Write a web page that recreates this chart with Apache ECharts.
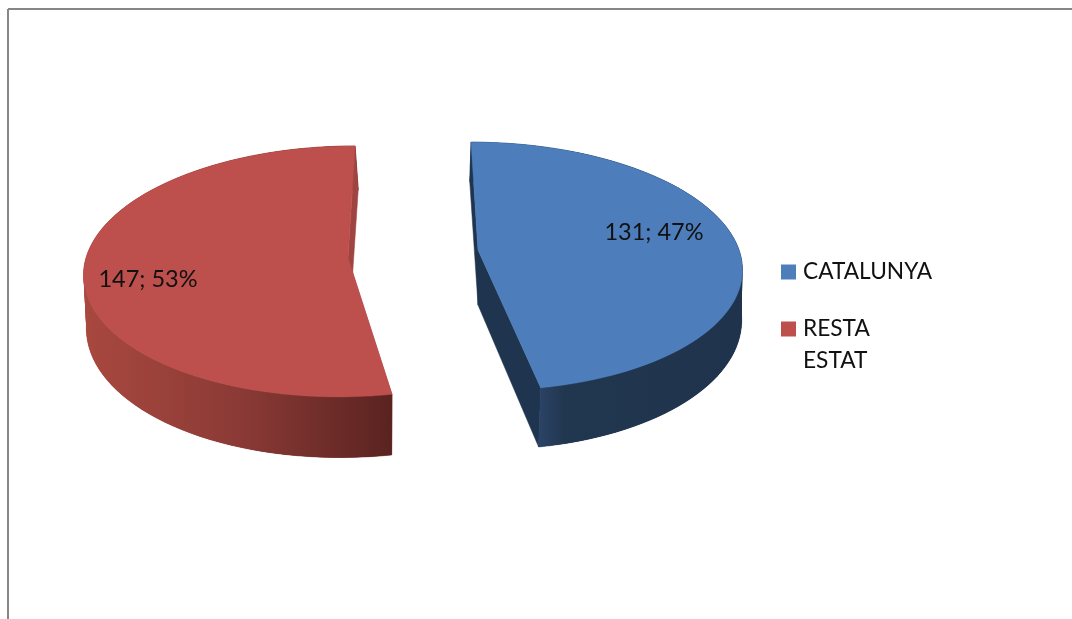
<!DOCTYPE html>
<html>
<head>
<meta charset="utf-8">
<style>
  html, body { margin: 0; padding: 0; background: #fff; }
  #chart { width: 1072px; height: 619px; }
</style>
</head>
<body>
<div id="chart"></div>
<script src="https://cdn.jsdelivr.net/npm/echarts@6/dist/echarts.min.js"></script>
<script>
// data
const regions = ['CATALUNYA', 'RESTA ESTAT'];
const counts = [131, 147];

const total = counts.reduce((a, b) => a + b, 0);
const fontName = 'Lato';

// how each slice sits on the page (the pie is drawn tilted, in perspective)
const sliceLooks = [{
  vertex: [478, 250], skew: 1, drop: [0, 55], labelAt: [654, 232],
  topPlane: { r: 261, ry: 122, k: 0.131, s: 0.03 },
  top: '#4d7ebb', cut: '#1f344f',
  wall: [{ offset: 0, color: '#2a4264' }, { offset: 0.12, color: '#21364f' }, { offset: 1, color: '#1f334d' }],
  wallX: [541, 741]
}, {
  vertex: [348, 258], skew: -1, drop: [2, 55], labelAt: [148, 279],
  topPlane: { r: 262, ry: 124, k: 0.107, s: 0.03 },
  top: '#bd504c', cut: '#a04441',
  wall: [{ offset: 0, color: '#a8483f' }, { offset: 0.5, color: '#8b3a36' }, { offset: 1, color: '#5a2320' }],
  wallX: [85, 393]
}];

const bottomPlane = { r: 262, ry: 133, k: 0.08, s: 0.034 };
const arcSteps = 80;

// pie angle (degrees clockwise from the back of the pie) to a page position
function project(plane, origin, skew, deg) {
  const a = deg * Math.PI / 180;
  const u = Math.sin(a);
  const v = -Math.cos(a);
  const w = 1 - plane.k * v;
  return [
    origin[0] + plane.r * (u + skew * plane.s * v) / w,
    origin[1] + plane.ry * v / w
  ];
}

function arc(plane, origin, skew, from, to) {
  const pts = [];
  for (let i = 0; i <= arcSteps; i++) {
    pts.push(project(plane, origin, skew, from + (to - from) * i / arcSteps));
  }
  return pts;
}

function renderSlice(index, params, api) {
  const look = sliceLooks[index];
  const before = counts.slice(0, index).reduce((a, b) => a + b, 0);
  const from = before / total * 360;
  const to = (before + api.value(0)) / total * 360;

  const v = look.vertex;
  const v2 = [v[0] + look.drop[0], v[1] + look.drop[1]];
  const topArc = arc(look.topPlane, v, look.skew, from, to);
  const bottomArc = arc(bottomPlane, v2, look.skew, from, to);

  // which ends of the slice are at the back and at the front
  const back = index === 0 ? 0 : arcSteps;
  const front = index === 0 ? arcSteps : 0;

  const poly = (points, fill) => ({
    type: 'polygon',
    shape: { points: points },
    style: { fill: fill, stroke: fill, lineWidth: 0.5 }
  });
  const wallFill = new echarts.graphic.LinearGradient(
    look.wallX[0], 0, look.wallX[1], 0, look.wall, true);

  // outer wall: one base shape, then overlapping strips so the side edge
  // between the two planes stays straight and no seams show
  const wallParts = [poly(topArc.concat(bottomArc.slice().reverse()), wallFill)];
  for (let i = 0; i < arcSteps - 1; i++) {
    wallParts.push({
      type: 'polygon',
      shape: { points: [topArc[i], topArc[i + 2], bottomArc[i + 2], bottomArc[i]] },
      style: { fill: wallFill }
    });
  }

  return {
    type: 'group',
    children: [
      poly([v, topArc[front], bottomArc[front], v2], look.cut)
    ].concat(wallParts, [
      poly([topArc[back], v, v2, bottomArc[back]], look.cut),
      poly([v].concat(topArc), look.top),
      {
        type: 'text',
        style: {
          x: look.labelAt[0],
          y: look.labelAt[1],
          text: api.value(0) + '; ' + Math.round(api.value(0) / total * 100) + '%',
          font: '23.5px ' + fontName,
          fill: '#111',
          align: 'center',
          verticalAlign: 'middle'
        }
      }
    ])
  };
}

const chart = echarts.init(document.getElementById('chart'), null, { renderer: 'canvas' });

chart.setOption({
  backgroundColor: '#fff',
  animation: false,
  legend: {
    orient: 'vertical',
    left: 781,
    top: 256,
    padding: 0,
    itemWidth: 15,
    itemHeight: 15,
    itemGap: -7,
    icon: 'rect',
    data: regions,
    formatter: name => name.indexOf(' ') > 0 ? '\n' + name.replace(' ', '\n') : name,
    textStyle: {
      fontFamily: fontName,
      fontSize: 22.7,
      lineHeight: 32,
      color: '#111',
      padding: [0, 0, 0, 2]
    }
  },
  graphic: [
    { type: 'line', shape: { x1: 8, y1: 9, x2: 1072, y2: 9 }, style: { stroke: '#868686', lineWidth: 2 } },
    { type: 'line', shape: { x1: 8, y1: 9, x2: 8, y2: 619 }, style: { stroke: '#868686', lineWidth: 2 } }
  ],
  series: regions.map((name, i) => ({
    type: 'custom',
    name: name,
    coordinateSystem: 'none',
    itemStyle: { color: sliceLooks[i].top },
    renderItem: (params, api) => renderSlice(i, params, api),
    data: [[counts[i]]]
  }))
});
</script>
</body>
</html>
